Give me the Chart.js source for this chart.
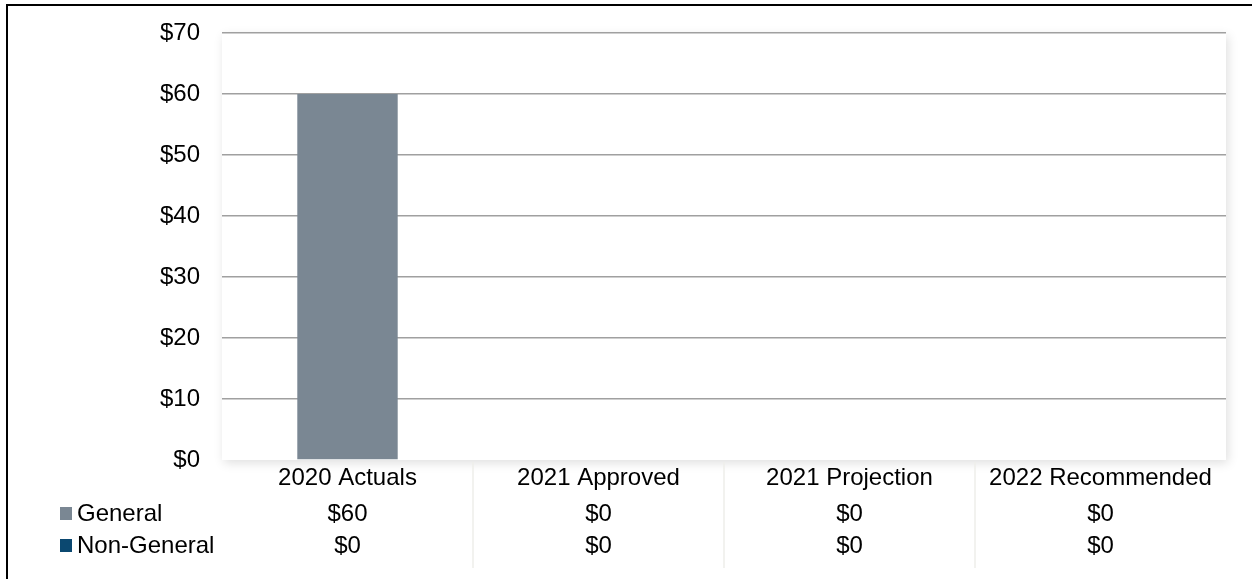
<!DOCTYPE html>
<html>
<head>
<meta charset="utf-8">
<script src="https://cdn.jsdelivr.net/npm/chart.js@4/dist/chart.umd.min.js"></script>
<style>
  html, body { margin: 0; padding: 0; background: #fff; }
  #wrap { width: 1252px; height: 579px; position: relative; }
</style>
</head>
<body>
<div id="wrap"><canvas id="myChart"></canvas></div>
<script>
// categories and series
const categories = ["2020 Actuals", "2021 Approved", "2021 Projection", "2022 Recommended"];
const seriesNames = ["General", "Non-General"];
const generalValues = [60, 0, 0, 0];
const nonGeneralValues = [0, 0, 0, 0];
const seriesColors = ["#7A8793", "#0B4870"];
const yTicks = [0, 10, 20, 30, 40, 50, 60, 70];

const FONT = "'Liberation Sans', Arial, sans-serif";
const FONT_SIZE = 24;

// plot area shadow, data table and outer frame lines
const framePlugin = {
    id: 'frame',
    beforeDraw(chart) {
        const ctx = chart.ctx;
        const a = chart.chartArea;
        ctx.save();
        ctx.fillStyle = '#fff';
        ctx.shadowColor = 'rgba(0,0,0,0.13)';
        ctx.shadowBlur = 10;
        ctx.shadowOffsetX = 2;
        ctx.shadowOffsetY = 3;
        ctx.fillRect(a.left, a.top, a.right - a.left, a.bottom - a.top);
        ctx.restore();
    },
    afterDraw(chart) {
        const ctx = chart.ctx;
        const x = chart.scales.x;
        const a = chart.chartArea;
        ctx.save();

        // faint separators in the data table
        ctx.strokeStyle = '#eeeeea';
        ctx.lineWidth = 1.5;
        for (let i = 0; i < categories.length - 1; i++) {
            const bx = (x.getPixelForValue(i) + x.getPixelForValue(i + 1)) / 2;
            ctx.beginPath();
            ctx.moveTo(bx, a.bottom + 2);
            ctx.lineTo(bx, 568);
            ctx.stroke();
        }

        // data table rows
        const rowY = [513, 545];
        ctx.font = FONT_SIZE + 'px ' + FONT;
        ctx.textBaseline = 'middle';
        chart.data.datasets.forEach((ds, di) => {
            const y = rowY[di];
            ctx.fillStyle = ds.backgroundColor;
            ctx.fillRect(60, y - 6, 12, 13);
            ctx.fillStyle = '#000';
            ctx.textAlign = 'left';
            ctx.fillText(ds.label, 77, y + 1);
            ctx.textAlign = 'center';
            ds.data.forEach((v, i) => {
                ctx.fillText('$' + v, x.getPixelForValue(i), y + 1);
            });
        });

        // outer frame (left and top only)
        ctx.fillStyle = '#000';
        ctx.fillRect(6, 4, 2, 575);
        ctx.fillRect(6, 4, 1246, 2);
        ctx.restore();
    }
};

const ctx = document.getElementById('myChart').getContext('2d');
new Chart(ctx, {
    type: 'bar',
    data: {
        labels: categories,
        datasets: [{
            label: seriesNames[0],
            data: generalValues,
            backgroundColor: seriesColors[0],
            barPercentage: 0.4,
            categoryPercentage: 1.0
        }, {
            label: seriesNames[1],
            data: nonGeneralValues,
            backgroundColor: seriesColors[1],
            barPercentage: 0.4,
            categoryPercentage: 1.0
        }]
    },
    options: {
        responsive: true,
        maintainAspectRatio: false,
        animation: false,
        layout: { padding: { top: 33, right: 26, bottom: 0, left: 0 } },
        plugins: {
            legend: { display: false },
            tooltip: { enabled: false }
        },
        scales: {
            x: {
                stacked: true,
                grid: { display: false, drawTicks: false },
                border: { display: false },
                ticks: {
                    color: '#000',
                    padding: 4,
                    maxRotation: 0,
                    font: { family: FONT, size: FONT_SIZE }
                },
                afterFit(scale) { scale.height = 119; }
            },
            y: {
                stacked: true,
                min: 0,
                max: 70,
                afterBuildTicks(scale) { scale.ticks = yTicks.map(v => ({ value: v })); },
                grid: {
                    drawTicks: false,
                    lineWidth: 1.5,
                    color: c => (c.tick && c.tick.value === 0) ? 'rgba(0,0,0,0)' : '#A0A0A0'
                },
                border: { display: false },
                ticks: {
                    color: '#000',
                    padding: 22,
                    font: { family: FONT, size: FONT_SIZE },
                    callback: v => '$' + v
                },
                afterFit(scale) {
                    scale.width = 222;
                    scale.paddingTop = 0;
                    scale.paddingBottom = 0;
                }
            }
        }
    },
    plugins: [framePlugin]
});
</script>
</body>
</html>
